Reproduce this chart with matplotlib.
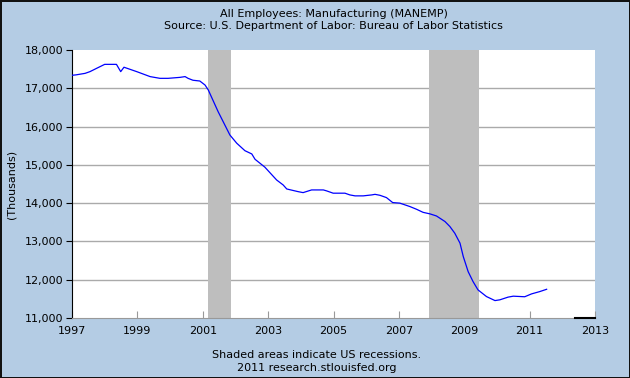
import matplotlib
matplotlib.use("Agg")
import matplotlib.pyplot as plt

# --- data (decimal year, thousands of employees) ---
years = [1997.00, 1997.12, 1997.40, 1997.55, 1997.75, 1998.00, 1998.36, 1998.49,
         1998.59, 1998.98, 1999.39, 1999.69, 1999.94, 2000.30, 2000.46, 2000.55,
         2000.70, 2000.91, 2001.07, 2001.17, 2001.47, 2001.83, 2002.04, 2002.29,
         2002.50, 2002.60, 2002.90, 2003.26, 2003.46, 2003.57, 2003.92, 2004.07,
         2004.33, 2004.69, 2004.79, 2004.99, 2005.35, 2005.50, 2005.66, 2005.91,
         2006.17, 2006.27, 2006.42, 2006.62, 2006.81, 2007.03, 2007.34, 2007.54,
         2007.74, 2007.95, 2008.15, 2008.41, 2008.56, 2008.71, 2008.87, 2008.97,
         2009.12, 2009.27, 2009.42, 2009.68, 2009.94, 2010.09, 2010.34, 2010.50,
         2010.85, 2011.06, 2011.31, 2011.52]
employees = [17340, 17350, 17390, 17435, 17520, 17625, 17625, 17435,
             17550, 17435, 17305, 17260, 17260, 17285, 17305, 17260,
             17210, 17190, 17085, 16955, 16390, 15780, 15565, 15370,
             15285, 15145, 14940, 14605, 14475, 14370, 14300, 14275,
             14345, 14345, 14320, 14260, 14260, 14215, 14190, 14190,
             14215, 14230, 14205, 14145, 14015, 14000, 13910, 13840,
             13760, 13720, 13665, 13520, 13390, 13215, 12955, 12605,
             12210, 11950, 11735, 11560, 11455, 11475, 11545, 11570,
             11555, 11630, 11690, 11750]

# recessions (start, end)
recessions = [(2001.17, 2001.87), (2007.92, 2009.46)]

x_ticks = [1997, 1999, 2001, 2003, 2005, 2007, 2009, 2011, 2013]
y_ticks = [11000, 12000, 13000, 14000, 15000, 16000, 17000, 18000]

bg = "#b4cce4"

fig = plt.figure(figsize=(6.3, 3.78), dpi=100)
fig.patch.set_facecolor(bg)
fig.patch.set_edgecolor("#111111")
fig.patch.set_linewidth(2)

ax = fig.add_axes([72 / 630, 1 - 318 / 378, (595 - 72) / 630, (318 - 50) / 378])
ax.set_facecolor("white")

# grid under the shading
for v in y_ticks[1:-1]:
    ax.axhline(v, color="#aaaaaa", lw=1, zorder=1)

for s, e in recessions:
    ax.axvspan(s, e, color="#bebebe", lw=0, zorder=2)

ax.plot(years, employees, color="#0000ff", lw=0.9, zorder=3)

ax.set_xlim(1997, 2013)
ax.set_ylim(11000, 18000)

ax.set_xticks(x_ticks)
ax.set_xticklabels([str(t) for t in x_ticks], fontsize=8)
ax.set_yticks(y_ticks)
ax.set_yticklabels([f"{t:,}" for t in y_ticks], fontsize=8)

ax.tick_params(axis="x", direction="in", length=5, color="#999999", pad=6)
ax.tick_params(axis="y", direction="out", length=4, color="black", pad=2)

for side in ["top", "right"]:
    ax.spines[side].set_visible(False)
ax.spines["left"].set_color("black")
ax.spines["bottom"].set_color("#999999")
ax.axhline(11000, xmin=0.962, xmax=1, color="black", lw=1.5, zorder=4, clip_on=False)

ax.set_ylabel("(Thousands)", fontsize=8, labelpad=6)

cx = (72 + 595) / 2 / 630
fig.text(cx, 1 - 14 / 378, "All Employees: Manufacturing (MANEMP)",
         ha="center", va="center", fontsize=8)
fig.text(cx, 1 - 26 / 378, "Source: U.S. Department of Labor: Bureau of Labor Statistics",
         ha="center", va="center", fontsize=8)
fig.text(317 / 630, 1 - 355 / 378, "Shaded areas indicate US recessions.",
         ha="center", va="center", fontsize=8)
fig.text(317 / 630, 1 - 368 / 378, "2011 research.stlouisfed.org",
         ha="center", va="center", fontsize=8)

fig.savefig("out.png", dpi=100, facecolor=fig.get_facecolor(), edgecolor=fig.get_edgecolor())
